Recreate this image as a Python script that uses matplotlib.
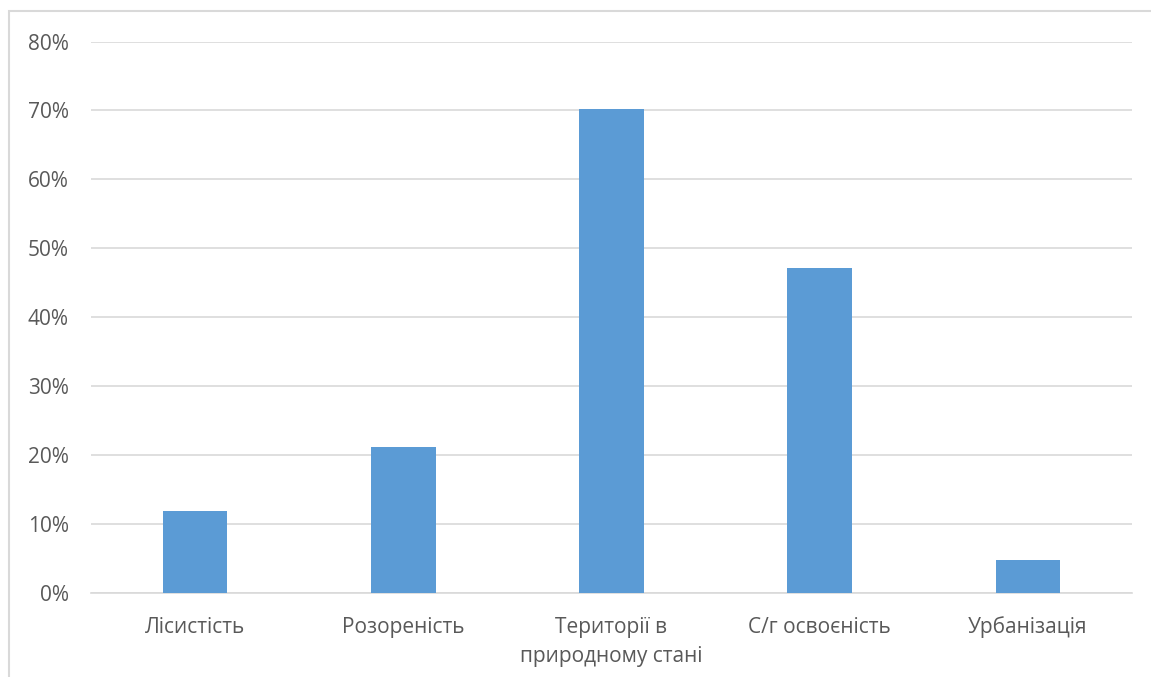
import matplotlib.pyplot as plt
from matplotlib.patches import Rectangle
from matplotlib.ticker import PercentFormatter

categories = ["Лісистість", "Розореність", "Території в\nприродному стані",
              "С/г освоєність", "Урбанізація"]
values = [11.9, 21.2, 70.2, 47.2, 4.8]
y_ticks = [0, 10, 20, 30, 40, 50, 60, 70, 80]

plt.rcParams['font.family'] = ['Open Sans', 'DejaVu Sans']
text_color = "#595959"

fig = plt.figure(figsize=(11.51, 6.77), dpi=100)
# outer chart frame (left/top edges visible)
fig.patches.append(Rectangle((9 / 1151, -0.1), 1.2, (677 - 11) / 677 + 0.1,
                             transform=fig.transFigure, fill=False,
                             edgecolor="#d9d9d9", linewidth=1.5))

ax = fig.add_axes([91 / 1151, (677 - 593) / 677, (1132 - 91) / 1151, (593 - 41.5) / 677])
x = range(len(categories))
ax.bar(x, values, width=0.31, color="#5b9bd5", zorder=3)

ax.set_xlim(-0.5, len(categories) - 0.5)
ax.set_ylim(0, 80)
ax.set_yticks(y_ticks)
ax.yaxis.set_major_formatter(PercentFormatter(decimals=0))
ax.set_xticks(list(x))
ax.set_xticklabels(categories, linespacing=1.5)
ax.grid(axis="y", color="#d9d9d9", linewidth=1.2, zorder=0)
for s in ["top", "right", "left"]:
    ax.spines[s].set_visible(False)
ax.spines["bottom"].set_color("#d9d9d9")
ax.spines["bottom"].set_linewidth(1.2)
ax.tick_params(axis="both", length=0, labelsize=15, colors=text_color)
ax.tick_params(axis="y", pad=16)
ax.tick_params(axis="x", pad=17)

fig.savefig("out.png", dpi=100)
